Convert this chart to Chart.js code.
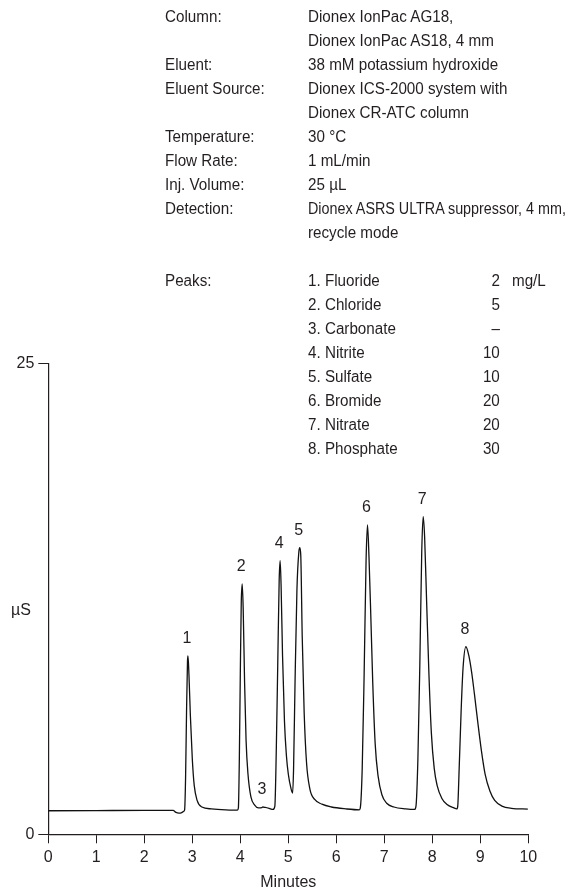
<!DOCTYPE html>
<html>
<head>
<meta charset="utf-8">
<title>Anion separation on IonPac AS18</title>
<script src="https://cdn.jsdelivr.net/npm/chart.js"></script>
<style>
    body {
        margin: 0;
        background: #ffffff;
    }
    .page {
        position: relative;
        width: 572px;
        height: 892px;
        font-family: 'Liberation Sans', Arial, sans-serif;
        font-size: 16px;
        color: #231f20;
    }
    .page canvas {
        position: absolute;
        left: 0;
        top: 0;
    }
    .row {
        position: absolute;
        height: 22px;
        line-height: 22px;
        white-space: nowrap;
    }
    /* condensed look of the original typeface */
    .row span {
        display: inline-block;
        transform-origin: left center;
    }
    .label { left: 165px; }
    .value { left: 308px; }
    .amount { right: 72px; text-align: right; }
    .amount span { transform-origin: right center; }
    .unit { left: 512px; }
</style>
</head>
<body>
<div class="page" id="page">
    <canvas id="chromatogram" width="572" height="892"></canvas>
</div>

<script>
// Retention time (min) and conductivity (µS)
const times = [
    0, 1.0, 2.0, 2.6, 2.66, 2.72, 2.78, 2.82,
    2.84, 2.86, 2.88, 2.90, 2.91, 2.93, 2.96, 3.00, 3.04, 3.10, 3.20, 3.40, 3.70, 3.94,
    3.96, 3.98, 4.00, 4.02, 4.04, 4.06, 4.09, 4.12, 4.16, 4.22, 4.30, 4.38, 4.45, 4.47, 4.52, 4.60, 4.68,
    4.72, 4.75, 4.78, 4.81, 4.83, 4.85, 4.88, 4.92, 4.96, 5.00, 5.05, 5.09,
    5.11, 5.14, 5.18, 5.22, 5.24, 5.26, 5.29, 5.33, 5.38, 5.45, 5.55, 5.70, 5.90, 6.20, 6.48,
    6.50, 6.54, 6.58, 6.62, 6.65, 6.68, 6.72, 6.76, 6.81, 6.87, 6.95, 7.05, 7.20, 7.45, 7.63,
    7.66, 7.70, 7.74, 7.78, 7.81, 7.84, 7.88, 7.93, 7.98, 8.04, 8.10, 8.20, 8.30, 8.45, 8.51,
    8.53, 8.56, 8.60, 8.64, 8.70, 8.76, 8.82, 8.88, 8.95, 9.02, 9.10, 9.20, 9.30, 9.45, 9.65, 9.99
];
const signal = [
    1.25, 1.26, 1.27, 1.27, 1.16, 1.12, 1.15, 1.22,
    1.3, 3.0, 6.5, 9.2, 9.47, 8.5, 6.3, 4.0, 2.6, 1.8, 1.45, 1.35, 1.3, 1.28,
    1.4, 4.0, 8.5, 12.3, 13.29, 12.0, 8.0, 5.0, 3.2, 2.0, 1.55, 1.4, 1.42, 1.45, 1.43, 1.38, 1.32,
    1.5, 4.5, 9.0, 13.5, 14.53, 13.2, 9.5, 6.0, 4.2, 3.2, 2.5, 2.19,
    3.5, 8.0, 13.0, 15.0, 15.22, 14.8, 10.5, 6.5, 3.8, 2.4, 1.85, 1.6, 1.45, 1.35, 1.3,
    1.4, 3.5, 8.5, 14.5, 16.43, 14.8, 11.5, 8.0, 4.8, 3.1, 2.1, 1.65, 1.45, 1.35, 1.32,
    1.5, 4.0, 9.0, 15.0, 16.87, 15.8, 12.5, 8.5, 5.4, 3.5, 2.6, 1.9, 1.6, 1.4, 1.35,
    1.5, 3.5, 6.5, 8.8, 9.96, 9.5, 8.6, 7.4, 5.9, 4.5, 3.2, 2.3, 1.8, 1.5, 1.38, 1.34
];

// Peak numbers placed above each apex
const peakNumbers = ['1', '2', '3', '4', '5', '6', '7', '8'];
const peakTimes = [2.91, 4.04, 4.47, 4.83, 5.24, 6.65, 7.81, 8.70];
const peakHeights = [9.47, 13.29, 1.45, 14.53, 15.22, 16.43, 16.87, 9.96];

// Axis ticks
const xTicks = [0, 1, 2, 3, 4, 5, 6, 7, 8, 9, 10];
const yTicks = [0, 25];

// Method conditions
const conditionLabels = ['Column:', '', 'Eluent:', 'Eluent Source:', '', 'Temperature:', 'Flow Rate:', 'Inj. Volume:', 'Detection:', ''];
const conditionValues = [
    'Dionex IonPac AG18,',
    'Dionex IonPac AS18, 4 mm',
    '38 mM potassium hydroxide',
    'Dionex ICS-2000 system with',
    'Dionex CR-ATC column',
    '30 °C',
    '1 mL/min',
    '25 µL',
    'Dionex ASRS ULTRA suppressor, 4 mm,',
    'recycle mode'
];
const peakNames = ['1. Fluoride', '2. Chloride', '3. Carbonate', '4. Nitrite', '5. Sulfate', '6. Bromide', '7. Nitrate', '8. Phosphate'];
const peakAmounts = ['2', '5', '–', '10', '10', '20', '20', '30'];

const FONT_FAMILY = "'Liberation Sans', Arial, sans-serif";
const INK = '#231f20';
const ROW_STEP = 24;
const TEXT_SCALE = 0.95;
const TEXT_RIGHT_LIMIT = 566;

function addRow(cls, text, centerY) {
    const div = document.createElement('div');
    div.className = 'row ' + cls;
    div.style.top = (centerY - 11) + 'px';
    const span = document.createElement('span');
    span.textContent = text;
    div.appendChild(span);
    document.getElementById('page').appendChild(div);

    // squeeze a little more if a line would run past the right margin
    let scale = TEXT_SCALE;
    const room = TEXT_RIGHT_LIMIT - div.offsetLeft;
    if (span.offsetWidth * scale > room) scale = room / span.offsetWidth;
    span.style.transform = 'scaleX(' + scale.toFixed(3) + ')';
}

function buildConditions() {
    conditionValues.forEach((val, i) => {
        const y = 17 + i * ROW_STEP;
        if (conditionLabels[i]) addRow('label', conditionLabels[i], y);
        addRow('value', val, y);
    });

    // one blank line, then the peak table
    const peaksTop = 17 + 11 * ROW_STEP;
    addRow('label', 'Peaks:', peaksTop);
    peakNames.forEach((name, i) => {
        const y = peaksTop + i * ROW_STEP;
        addRow('value', name, y);
        addRow('amount', peakAmounts[i], y);
    });
    addRow('unit', 'mg/L', peaksTop);
}

// Peak numbers and the horizontal µS label
const annotations = {
    id: 'annotations',
    afterDatasetsDraw(chart) {
        const { ctx, scales } = chart;
        ctx.save();
        ctx.fillStyle = INK;
        ctx.font = '16px ' + FONT_FAMILY;
        ctx.textAlign = 'center';
        ctx.textBaseline = 'middle';
        peakNumbers.forEach((num, i) => {
            const px = scales.x.getPixelForValue(peakTimes[i]);
            const py = scales.y.getPixelForValue(peakHeights[i]);
            ctx.fillText(num, px - 1, py - 17);
        });
        ctx.textAlign = 'left';
        ctx.fillText('µS', 11, 611);
        ctx.restore();
    }
};

function drawChart() {
    const ctx = document.getElementById('chromatogram');

    new Chart(ctx, {
        type: 'line',
        data: {
            datasets: [{
                data: times.map((t, i) => ({ x: t, y: signal[i] })),
                borderColor: '#111111',
                borderWidth: 1.3,
                pointRadius: 0,
                cubicInterpolationMode: 'monotone',
                fill: false
            }]
        },
        options: {
            responsive: false,
            animation: false,
            layout: {
                padding: { left: 0, right: 43.7, top: 363.5, bottom: 0 }
            },
            plugins: {
                legend: { display: false },
                tooltip: { enabled: false }
            },
            scales: {
                x: {
                    type: 'linear',
                    min: 0,
                    max: 10,
                    afterBuildTicks: (scale) => {
                        scale.ticks = xTicks.map(v => ({ value: v }));
                    },
                    afterFit: (scale) => {
                        scale.height = 57.7;
                    },
                    ticks: {
                        color: INK,
                        font: { family: FONT_FAMILY, size: 16 },
                        padding: 5,
                        maxRotation: 0
                    },
                    grid: {
                        drawOnChartArea: false,
                        drawTicks: true,
                        tickLength: 9,
                        color: INK,
                        lineWidth: 1
                    },
                    border: { display: true, color: INK, width: 1.2 },
                    title: {
                        display: true,
                        text: 'Minutes',
                        color: INK,
                        font: { family: FONT_FAMILY, size: 16 },
                        padding: { top: 3, bottom: 0 }
                    }
                },
                y: {
                    type: 'linear',
                    min: 0,
                    max: 25,
                    afterBuildTicks: (scale) => {
                        scale.ticks = yTicks.map(v => ({ value: v }));
                    },
                    afterFit: (scale) => {
                        scale.width = 48.3;
                    },
                    ticks: {
                        color: INK,
                        font: { family: FONT_FAMILY, size: 16 },
                        padding: 4
                    },
                    grid: {
                        drawOnChartArea: false,
                        drawTicks: true,
                        tickLength: 10,
                        color: INK,
                        lineWidth: 1
                    },
                    border: { display: true, color: INK, width: 1.2 }
                }
            }
        },
        plugins: [annotations]
    });
}

buildConditions();
drawChart();
</script>
</body>
</html>
